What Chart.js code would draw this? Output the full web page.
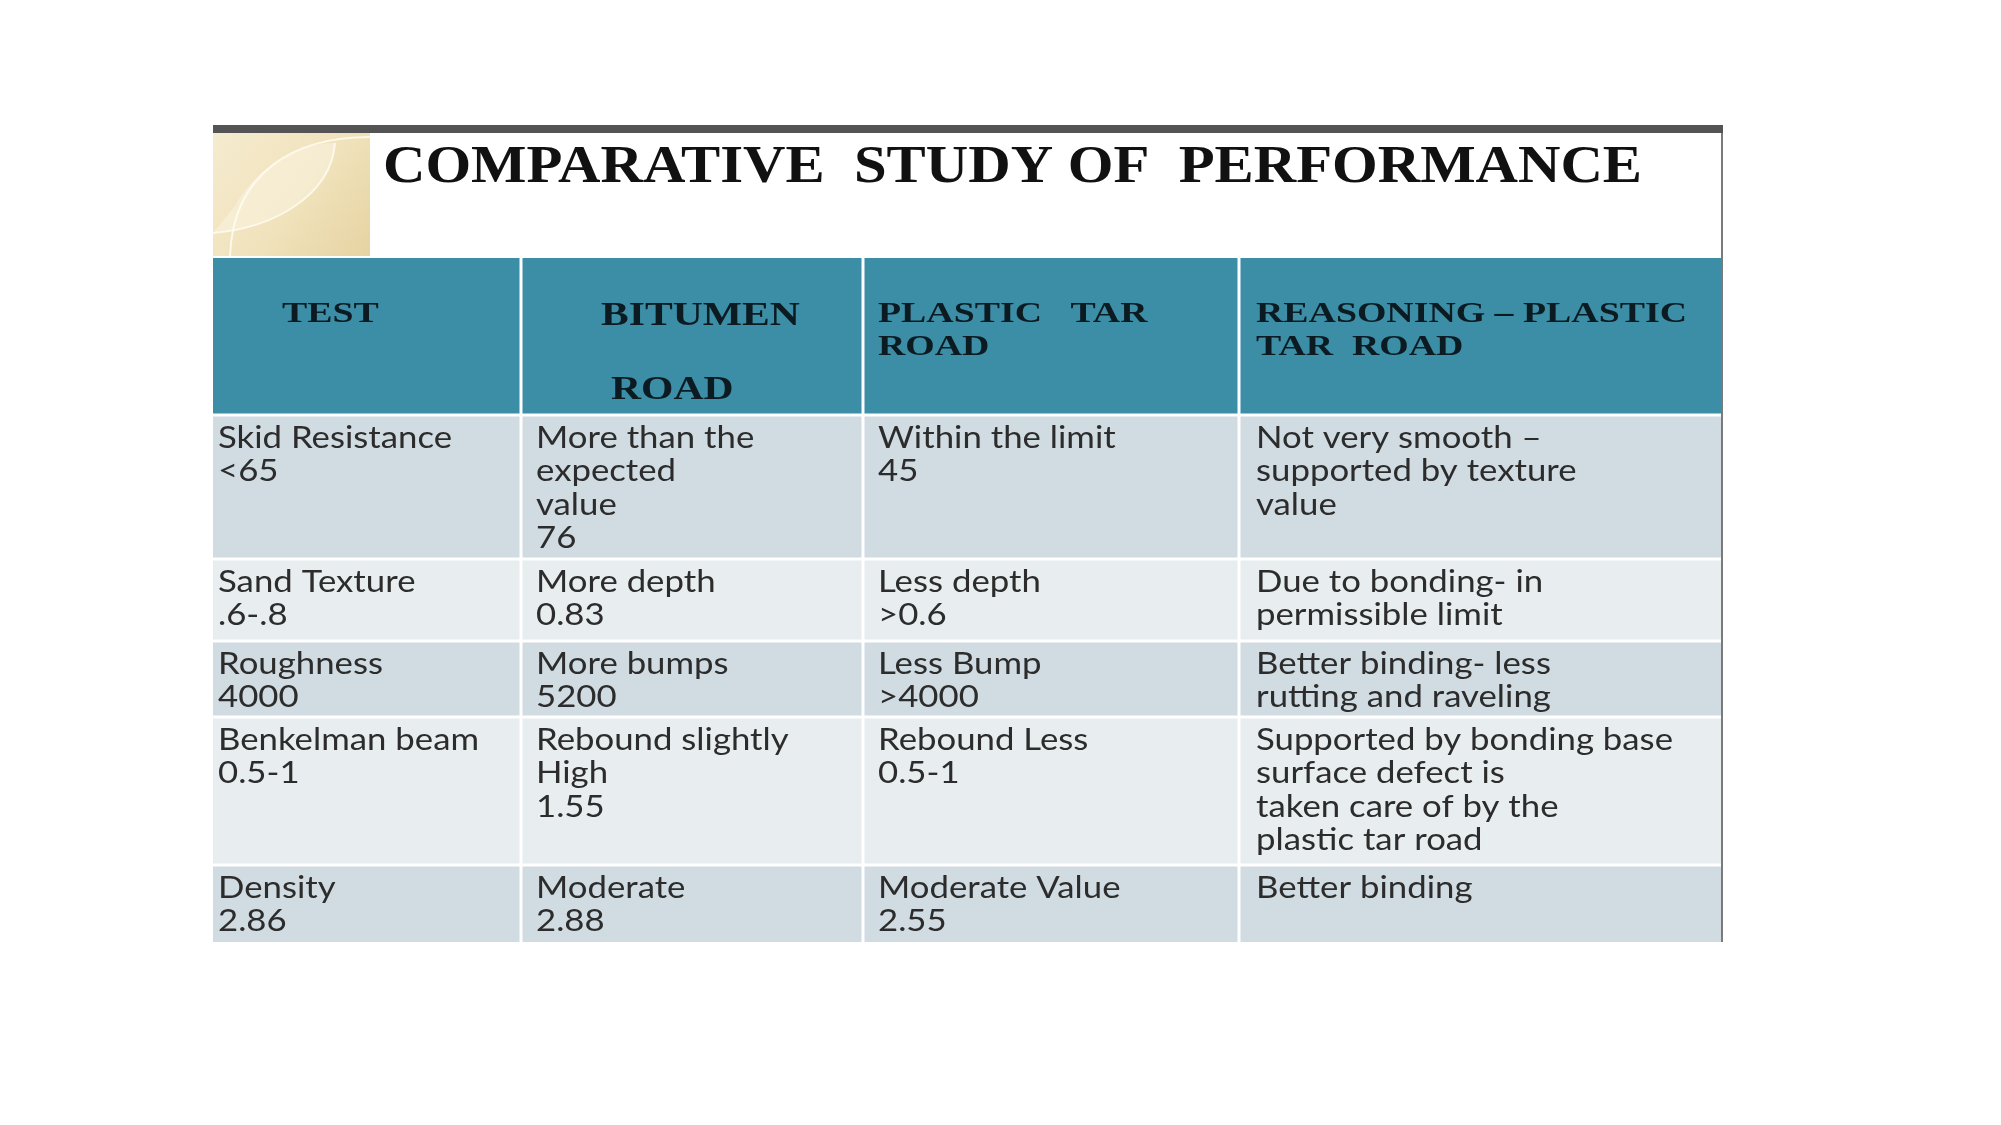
<!DOCTYPE html>
<html>
<head>
<meta charset="utf-8">
<script src="https://cdn.jsdelivr.net/npm/chart.js@4.4.1/dist/chart.umd.min.js"></script>
<style>
  html, body { margin: 0; padding: 0; background: #ffffff; }
  #wrap { width: 2001px; height: 1125px; }
</style>
</head>
<body>
<div id="wrap"><canvas id="tableChart" width="2001" height="1125"></canvas></div>
<script>
// --- table content ---
const title = 'COMPARATIVE  STUDY OF  PERFORMANCE';
const headerLines = [
    ['TEST'],
    ['BITUMEN', 'ROAD'],
    ['PLASTIC   TAR', 'ROAD'],
    ['REASONING \u2013 PLASTIC', 'TAR  ROAD']
];
const tests      = [['Skid Resistance', '<65'], ['Sand Texture', '.6-.8'], ['Roughness', '4000'], ['Benkelman beam', '0.5-1'], ['Density', '2.86']];
const bitumen    = [['More than the', 'expected', 'value', '76'], ['More depth', '0.83'], ['More bumps', '5200'], ['Rebound slightly', 'High', '1.55'], ['Moderate', '2.88']];
const plasticTar = [['Within the limit', '45'], ['Less depth', '>0.6'], ['Less Bump', '>4000'], ['Rebound Less', '0.5-1'], ['Moderate Value', '2.55']];
const reasoning  = [['Not very smooth \u2013', 'supported by texture', 'value'], ['Due to bonding- in', 'permissible limit'], ['Better binding- less', 'rutting and raveling'], ['Supported by bonding base', 'surface defect is', 'taken care of by the', 'plastic tar road'], ['Better binding']];

// --- layout (table units = px of the table box) ---
const colWidths  = [308, 342, 376, 484];
const rowHeights = [157, 144, 82, 76, 148, 77];   // header + 5 rows
const headerIndent = [[69], [80, 90], [15, 15], [17, 17]];
const headerLineY  = [[56], [58, 132], [56, 89], [56, 89]];
const headerSize   = [30, 33, 30, 30];
const bodyIndent   = [5, 15, 15, 17];
const firstLineY = 23, linePitch = 33.6;

const colors = {
    header: '#3b8ea6', rowDark: '#d0dce2', rowLight: '#e8edf0',
    bar: '#545454', border: '#7a7a7a', headText: '#0c1b22', bodyText: '#2c2c2c', title: '#111111'
};

const titleFont = 'bold 52px "Liberation Serif"';
const headFont  = size => `bold ${size}px "Liberation Serif"`;
const bodyFont  = '30px Lato';

const tableW = colWidths.reduce((a, b) => a + b, 0);
const tableH = rowHeights.reduce((a, b) => a + b, 0);
const colEdges = colWidths.reduce((acc, w) => { acc.push(acc[acc.length - 1] + w); return acc; }, [0]);
const rowEdges = rowHeights.reduce((acc, h) => { acc.push(acc[acc.length - 1] + h); return acc; }, [0]);
const bodyColumns = [tests, bitumen, plasticTar, reasoning];

// the slide text is stretched sideways, so measure a reference string to get the factor
function stretchFor(ctx, font, ref, target) {
    ctx.save();
    ctx.font = font;
    const w = ctx.measureText(ref).width;
    ctx.restore();
    return target / w;
}

function drawText(ctx, str, x, y, font, sx, color) {
    ctx.save();
    ctx.translate(x, y);
    ctx.scale(sx, 1);
    ctx.font = font;
    ctx.fillStyle = color;
    ctx.textAlign = 'left';
    ctx.fillText(str, 0, 0);
    ctx.restore();
}

const tablePlugin = {
    id: 'tablePlugin',
    beforeDatasetsDraw(chart) {
        const { ctx, scales: { x, y } } = chart;
        const px = v => x.getPixelForValue(v);
        const py = v => y.getPixelForValue(v);

        const sxTitle = stretchFor(ctx, titleFont, title, 1259);
        const sxHead  = stretchFor(ctx, headFont(30), headerLines[3][0], 431);
        const sxBody  = stretchFor(ctx, bodyFont, reasoning[3][0], 417);

        ctx.save();

        // top dark bar
        ctx.fillStyle = colors.bar;
        ctx.fillRect(px(0), py(-133), px(tableW) - px(0), py(-125) - py(-133));

        // beige corner block with the leaf curves
        const bx0 = px(0), bx1 = px(157), by0 = py(-125), by1 = py(-2);
        const g = ctx.createLinearGradient(bx0, by0, bx1, by1);
        g.addColorStop(0, '#f5ebcf');
        g.addColorStop(0.55, '#f0e2bb');
        g.addColorStop(1, '#e6d3a2');
        ctx.fillStyle = g;
        ctx.fillRect(bx0, by0, bx1 - bx0, by1 - by0);
        ctx.save();
        ctx.beginPath();
        ctx.rect(bx0, by0, bx1 - bx0, by1 - by0);
        ctx.clip();
        // lighter leaf fill
        ctx.beginPath();
        ctx.moveTo(bx0, by1 - 23);
        ctx.bezierCurveTo(bx0 + 60, by1 - 28, bx0 + 118, by1 - 60, bx0 + 122, by0 + 10);
        ctx.bezierCurveTo(bx0 + 80, by0 + 10, bx0 + 40, by0 + 40, bx0 + 22, by1 - 50);
        ctx.closePath();
        ctx.fillStyle = 'rgba(250,244,225,0.55)';
        ctx.fill();
        ctx.strokeStyle = 'rgba(255,252,240,0.85)';
        ctx.lineWidth = 2;
        ctx.beginPath();
        ctx.moveTo(bx0, by1 - 23);
        ctx.bezierCurveTo(bx0 + 60, by1 - 28, bx0 + 118, by1 - 60, bx0 + 122, by0 + 10);
        ctx.stroke();
        ctx.beginPath();
        ctx.moveTo(bx0 + 17, by1);
        ctx.bezierCurveTo(bx0 + 20, by0 + 40, bx0 + 80, by0 + 4, bx1, by0 + 4);
        ctx.stroke();
        ctx.restore();

        // title
        ctx.textBaseline = 'alphabetic';
        drawText(ctx, title, px(170), py(-76), titleFont, sxTitle, colors.title);

        // cells
        const gap = 1.5;
        for (let r = 0; r < rowHeights.length; r++) {
            for (let c = 0; c < colWidths.length; c++) {
                const l = px(colEdges[c]) + (c > 0 ? gap : 0);
                const rr = px(colEdges[c + 1]) - (c < colWidths.length - 1 ? gap : 0);
                const t = py(rowEdges[r]) + (r > 0 ? gap : 0);
                const b = py(rowEdges[r + 1]) - (r < rowHeights.length - 1 ? gap : 0);
                ctx.fillStyle = r === 0 ? colors.header : (r % 2 === 1 ? colors.rowDark : colors.rowLight);
                ctx.fillRect(l, t, rr - l, b - t);
            }
        }

        // right border
        ctx.strokeStyle = colors.border;
        ctx.lineWidth = 2;
        ctx.beginPath();
        ctx.moveTo(px(tableW) - 1, py(-125));
        ctx.lineTo(px(tableW) - 1, py(tableH));
        ctx.stroke();

        // header text
        ctx.textBaseline = 'middle';
        headerLines.forEach((lines, c) => {
            lines.forEach((line, i) => {
                drawText(ctx, line, px(colEdges[c] + headerIndent[c][i]), py(headerLineY[c][i]), headFont(headerSize[c]), sxHead, colors.headText);
            });
        });

        // body text
        bodyColumns.forEach((col, c) => {
            col.forEach((lines, r) => {
                const top = rowEdges[r + 1];
                lines.forEach((line, i) => {
                    drawText(ctx, line, px(colEdges[c] + bodyIndent[c]), py(top + firstLineY + i * linePitch), bodyFont, sxBody, colors.bodyText);
                });
            });
        });

        ctx.restore();
    }
};

new Chart(document.getElementById('tableChart'), {
    type: 'scatter',
    data: { datasets: [] },
    options: {
        responsive: false,
        animation: false,
        events: [],
        layout: { padding: { left: 213, right: 2001 - 213 - tableW, top: 258, bottom: 1125 - 258 - tableH } },
        plugins: { legend: { display: false }, tooltip: { enabled: false }, title: { display: false } },
        scales: {
            x: { type: 'linear', display: false, min: 0, max: tableW },
            y: { type: 'linear', display: false, reverse: true, min: 0, max: tableH }
        }
    },
    plugins: [tablePlugin]
});
</script>
</body>
</html>
